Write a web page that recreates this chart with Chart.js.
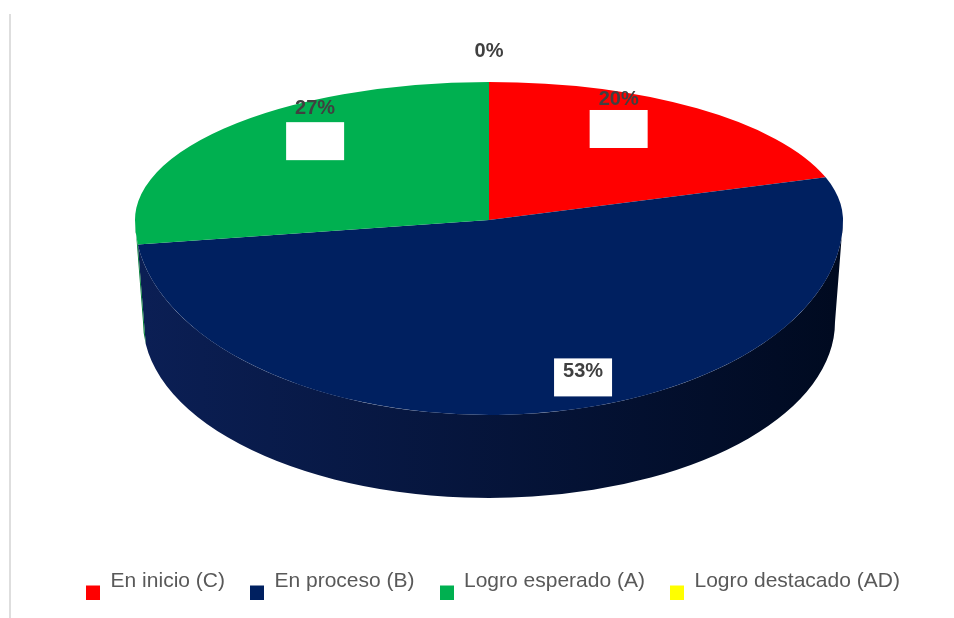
<!DOCTYPE html>
<html>
<head>
<meta charset="utf-8">
<script src="https://cdn.jsdelivr.net/npm/chart.js@4.4.0/dist/chart.umd.min.js"></script>
<style>
  html, body { margin: 0; padding: 0; background: #fff; }
  #wrap { position: relative; width: 954px; height: 618px; overflow: hidden; }
  #edge { position: absolute; left: 9px; top: 14px; width: 2px; height: 604px; background: #dedede; }
  canvas { position: absolute; left: 0; top: 0; }
</style>
</head>
<body>
<div id="wrap">
  <div id="edge"></div>
  <canvas id="pie-chart" width="954" height="618"></canvas>
</div>
<script>
// data
const categories = ['En inicio (C)', 'En proceso (B)', 'Logro esperado (A)', 'Logro destacado (AD)'];
const percentages = [20, 53, 27, 0];
const colors = ['#ff0000', '#002060', '#00b050', '#ffff00'];
const sideColors = [['#9a0000', '#6a0000'], ['#0b1f55', '#000a20'], ['#007a36', '#004a20'], ['#b0b000', '#808000']];

// fake perspective: back half flatter than front half
const CX = 489, CP = 220, RX = 354, RY_BACK = 138, RY_FRONT = 195;
const CB = 322, RX2 = 346, RY2 = 176;   // bottom rim of the side wall

// label placement (anchor on a plain ellipse, box offset, text offset from box)
const LX = 489, LY = 248, LRX = 354, LRY = 166;
const labelStyle = [
    {f: 0.7, dx: -16, dy: -25, ty: -30},
    {f: 0.7, dx: 40, dy: 16, ty: -6},
    {f: 0.7, dx: 12, dy: -30, ty: -33},
    {f: 1.0, dx: 0, dy: -31, ty: 0}
];

function squash(ctx, arc, ry) {
    const r = arc.outerRadius;
    ctx.translate(CX, CP);
    ctx.scale(RX / r, ry / r);
    ctx.translate(-arc.x, -arc.y);
}

const pie3d = {
    id: 'pie3d',
    beforeDatasetsDraw(chart) {
        const ctx = chart.ctx;
        const arcs = chart.getDatasetMeta(0).data;
        // side walls, only the front half shows
        arcs.forEach((arc, i) => {
            const a = Math.max(arc.startAngle, 0);
            const b = Math.min(arc.endAngle, Math.PI);
            if (b <= a) return;
            const g = ctx.createLinearGradient(CX - RX, 0, CX + RX, 0);
            g.addColorStop(0, sideColors[i][0]);
            g.addColorStop(1, sideColors[i][1]);
            ctx.save();
            ctx.beginPath();
            ctx.ellipse(CX, CP, RX, RY_FRONT, 0, a, b, false);
            ctx.ellipse(CX, CB, RX2, RY2, 0, b, a, true);
            ctx.closePath();
            ctx.fillStyle = g;
            ctx.fill();
            ctx.restore();
        });
        // back half of the top face
        ctx.save();
        ctx.beginPath();
        ctx.rect(0, 0, chart.width, CP);
        ctx.clip();
        squash(ctx, arcs[0], RY_BACK);
    },
    afterDatasetsDraw(chart) {
        const ctx = chart.ctx;
        const meta = chart.getDatasetMeta(0);
        ctx.restore();
        // front half of the top face
        ctx.save();
        ctx.beginPath();
        ctx.rect(0, CP, chart.width, chart.height - CP);
        ctx.clip();
        squash(ctx, meta.data[0], RY_FRONT);
        meta.controller.draw();
        ctx.restore();
    },
    afterDraw(chart) {
        const ctx = chart.ctx;
        const arcs = chart.getDatasetMeta(0).data;
        ctx.save();
        ctx.font = 'bold 20px "Liberation Sans", Arial, sans-serif';
        ctx.textAlign = 'center';
        ctx.textBaseline = 'middle';
        arcs.forEach((arc, i) => {
            const s = labelStyle[i];
            const mid = (arc.startAngle + arc.endAngle) / 2;
            const bx = LX + LRX * s.f * Math.cos(mid) + s.dx;
            const by = LY + LRY * s.f * Math.sin(mid) + s.dy;
            if (percentages[i] > 0) {
                ctx.fillStyle = '#ffffff';
                ctx.fillRect(bx - 29, by - 19, 58, 38);
            }
            ctx.fillStyle = '#404040';
            ctx.fillText(percentages[i] + '%', bx, by + s.ty);
        });
        ctx.restore();
    }
};

// legend squares sit low, next to the text baseline
function legendSquare(color) {
    const c = document.createElement('canvas');
    c.width = 14;
    c.height = 36;
    const g = c.getContext('2d');
    g.fillStyle = color;
    g.fillRect(0, 22, 14, 14);
    return c;
}

const ctx = document.getElementById('pie-chart').getContext('2d');
const chart = new Chart(ctx, {
    type: 'pie',
    data: {
        labels: categories,
        datasets: [{
            data: percentages,
            backgroundColor: colors,
            borderWidth: 0
        }]
    },
    options: {
        responsive: false,
        animation: false,
        devicePixelRatio: 1,
        layout: {
            padding: {left: 32, right: 0, top: 10, bottom: 16}
        },
        plugins: {
            tooltip: {enabled: false},
            legend: {
                position: 'bottom',
                labels: {
                    boxWidth: 14,
                    boxHeight: 14,
                    padding: 25,
                    usePointStyle: true,
                    color: '#595959',
                    font: {family: '"Liberation Sans", Arial, sans-serif', size: 21},
                    generateLabels(chart) {
                        const items = Chart.overrides.pie.plugins.legend.labels.generateLabels(chart);
                        items.forEach((it, i) => { it.pointStyle = legendSquare(colors[i]); });
                        return items;
                    }
                }
            }
        }
    },
    plugins: [pie3d]
});
</script>
</body>
</html>
